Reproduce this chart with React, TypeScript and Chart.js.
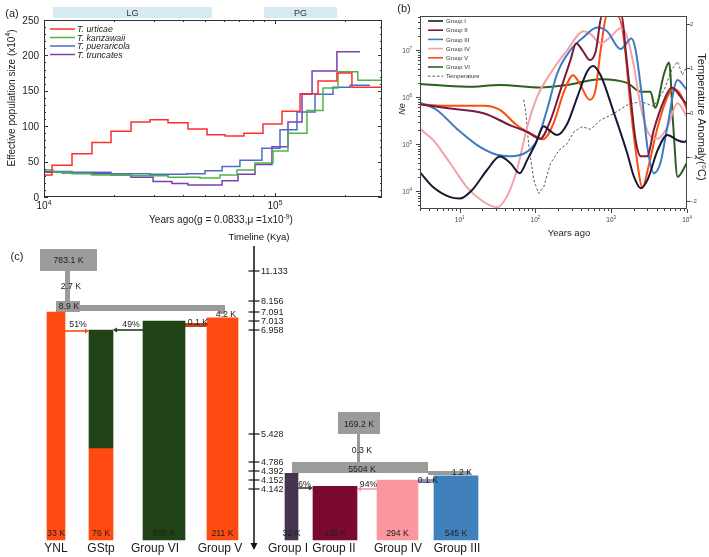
import React, { useEffect, useRef } from 'react';
import { Chart, registerables } from 'chart.js';

Chart.register(...registerables);

const FONT = '"Liberation Sans", Arial, Helvetica, sans-serif';
Chart.defaults.font.family = FONT;

// ================= Panel (a): PSMC step curves =================
const A_SPECIES = ['T. urticae', 'T. kanzawaii', 'T. pueraricola', 'T. truncates'];
const A_COLORS = ['#ff2e2e', '#4db544', '#4a6dc6', '#7a3fb2'];
// change-point years (last entry = end of curve) and Ne (x10^4) held until next change point
const A_URTICAE_YEARS = [10000, 10830, 13220, 16130, 19500, 23810, 28770, 34430, 42000, 50800, 60800, 73400, 88700, 107200, 128300, 153600, 185300, 215300, 290500];
const A_URTICAE_NE = [31, 45, 61, 77, 93, 106, 109, 105, 96, 88, 86, 90, 103, 121, 146, 164, 175, 155];
const A_KANZAWAII_YEARS = [10000, 10940, 13220, 16130, 23550, 34430, 47310, 57810, 68440, 81900, 98000, 113800, 137600, 161300, 187400, 228400, 290500];
const A_KANZAWAII_NE = [38, 35, 33, 31, 30, 28, 27, 31, 38, 48, 65, 90, 122, 154, 177, 165];
const A_PUERARICOLA_YEARS = [10000, 13220, 19500, 28770, 41590, 49770, 59010, 70500, 87800, 105100, 124500, 149000, 178200, 211500, 257800];
const A_PUERARICOLA_NE = [36, 35, 33, 32, 33, 37, 43, 52, 69, 95, 120, 145, 155, 158];
const A_TRUNCATES_YEARS = [10000, 11970, 15810, 19500, 23810, 29660, 35820, 41980, 59010, 69140, 81900, 97000, 113800, 130900, 144700, 185300, 233300];
const A_TRUNCATES_NE = [35, 34, 33, 31, 28, 22, 19, 17, 23, 32, 46, 71, 106, 145, 178, 205];
const A_Y_TICKS = [0, 50, 100, 150, 200, 250];
const A_X_LABELS = [10000, 100000];
const A_PERIODS = ['LG', 'PG'];
const A_PERIOD_START = [10940, 89600];
const A_PERIOD_END = [53300, 185300];

// ================= Panel (b): Ne through time + temperature =================
const B_GROUPS = ['Group I', 'Group II', 'Group III', 'Group IV', 'Group V', 'Group VI'];
const B_COLORS = ['#1b1733', '#7a1a3e', '#3c7dbf', '#f4a1a9', '#ff4d0d', '#2c5f20'];
const B_TOP = 5.3e7;
const B_G1_YEARS = [3, 4.5, 7.5, 10, 14.6, 23, 34, 46.8, 62, 78, 100, 129, 150, 194, 263, 357, 482, 576, 725, 1090, 1630, 2000, 2450, 3000, 4100, 5500, 7500, 9100, 10000];
const B_G1_NE = [2.5e4, 1.2e4, 7.4e3, 6.9e3, 1.05e4, 2.8e4, 5.4e4, 3.9e4, 2.4e4, 4.6e4, 1.0e5, 2.4e5, 2.0e5, 1.55e5, 2.7e5, 1.0e6, 3.5e6, 4.6e6, 2.9e6, 4.5e5, 6.3e4, 2.0e4, 1.15e4, 1.7e4, 7.4e4, 1.55e5, 1.2e5, 1.1e5, 1.2e5];
const B_G2_YEARS = [3, 7.5, 20.7, 46.8, 78, 116, 158, 214, 290, 346, 415, 524, 620, 757, 1380, 1550, 1820, 2100, 2450, 3000, 3650, 5000, 6300, 8300, 10000];
const B_G2_NE = [7e5, 5.7e5, 4.5e5, 2.5e5, 1.8e5, 1.3e5, 3.2e5, 1.4e6, 6.1e6, 1.4e7, 1.0e7, 6.1e6, 9e6, B_TOP, B_TOP, 1.0e7, 8.7e5, 1.2e5, 5.5e4, 5.5e4, 2.0e5, 8.7e5, 1.6e6, 1.0e6, 6.7e5];
const B_G3_YEARS = [3, 5, 9.2, 17, 31, 47, 78, 105, 142, 194, 290, 434, 650, 880, 1330, 1850, 2100, 2570, 3000, 3650, 4450, 5500, 7500, 10000];
const B_G3_NE = [7.6e5, 5.3e5, 2.1e5, 9.5e4, 5.9e4, 5.5e4, 6.9e4, 1.2e5, 5.3e5, 3.2e6, 1.0e7, 1.9e7, 3.0e7, 2.5e7, 1.05e7, 1.75e7, 1.0e7, 8.7e5, 8.7e4, 2.4e4, 3.9e4, 2.3e5, 2.3e6, 1.4e6];
const B_G4_YEARS = [3, 4.5, 7.5, 12.5, 20.7, 31, 42, 57, 78, 105, 158, 263, 434, 530, 725, 980, 1330, 1620, 2000, 2450, 3100, 4100, 5500, 7500, 10000];
const B_G4_NE = [2.1e5, 1.2e5, 3.9e4, 1.2e4, 5.9e3, 4.5e3, 7.6e3, 2.8e4, 2.3e5, 1.0e6, 3.2e6, 1.0e7, 2.5e7, 2.2e7, 1.4e7, 1.9e7, 2.9e7, 1.9e7, 4.4e6, 6.3e5, 1.7e5, 1.3e5, 2.3e5, 7.4e5, 3.8e5];
const B_G5_YEARS = [3, 7.5, 20.7, 34, 57, 95, 126, 174, 238, 314, 373, 524, 620, 725, 880, 1210, 1440, 1820, 2250, 2570, 3100, 4100, 5500, 6700, 8300, 10000];
const B_G5_NE = [7e5, 6.5e5, 6.5e5, 5.3e5, 2.5e5, 1.55e5, 1.26e5, 2.8e5, 1.3e6, 2.9e6, 2.1e6, 8.7e5, 1.4e6, 1.0e7, B_TOP, B_TOP, 2.2e7, 5.3e5, 3.3e4, 1.15e4, 3.3e4, 2.3e5, 1.0e6, 1.5e6, 1.1e6, 5.3e5];
const B_G6_YEARS = [3, 12.5, 34, 116, 263, 725, 1620, 2450, 3300, 3800, 5000, 5800, 6600, 7500, 10000];
const B_G6_NE = [1.9e6, 1.65e6, 1.8e6, 1.6e6, 1.8e6, 2.4e6, 2.0e6, 1.3e6, 1.3e6, 5.9e5, 3.2e6, 5.4e6, 2.3e5, 2.0e4, 4.0e4];
const B_TEMP_YEARS = [70, 74, 82, 95, 110, 129, 158, 205, 263, 323, 415, 534, 725, 1090, 1630, 2450, 3650, 5000, 6300, 7500, 8700, 10000];
const B_TEMP = [0.29, 0.06, -0.77, -1.52, -1.83, -1.68, -1.15, -0.85, -0.7, -0.43, -0.32, -0.38, -0.17, -0.02, 0.17, 0.25, 0.14, 0.51, 0.97, 1.15, 0.85, 1.04];
const B_TEMP_TICKS = [2, 1, 0, -1, -2];

// ================= Panel (c): demographic model =================
const C_POPS = ['YNL', 'GStp', 'Group VI', 'Group V', 'Group I', 'Group II', 'Group IV', 'Group III'];
const C_POP_NE = ['33 K', '76 K', '506 K', '211 K', '32 K', '436 K', '294 K', '545 K'];
const C_POP_ORIGIN_KYA = [7.091, 6.958, 7.013, 7.04, 4.33, 4.145, 4.152, 4.26];
const C_GSTP_SPLIT_KYA = 5.107;
const C_TIMELINE_KYA = [11.133, 8.156, 7.091, 7.013, 6.958, 5.428, 4.786, 4.392, 4.152, 4.142];
const C_ANCESTOR_NE = ['783.1 K', '169.2 K'];
const C_ANCESTOR_KYA = [11.133, 5.428];
const C_FOUNDER_NE = ['2.7 K', '0.3 K'];
const C_MERGED_NE = ['8.9 K', '5504 K'];
const C_BRANCH_NE = ['4.2 K', '1.2 K'];
const C_ADMIX = ['51%', '49%', '6%', '94%'];
const C_MIGRATION = ['0.1 K', '0.1 K'];

// ---- styling / layout (not data) ----
const C_COL = {
  orange: '#ff4a12', green: '#1f4216', g1: '#45334f', g2: '#7b0a30', g4: '#f9969e', g3: '#3f80bd',
  gray: '#9b9b9b', migL: '#b9471c', migR: '#a18dc4',
};
const C_POP_COLORS = [C_COL.orange, C_COL.green, C_COL.green, C_COL.orange, C_COL.g1, C_COL.g2, C_COL.g4, C_COL.g3];
const C_L = {
  timelineRows: [43, 73, 84, 93, 102, 206, 234, 243, 252, 261],
  presentRow: 312,
  barX: [[47, 65], [89, 113], [143, 185], [207, 238], [285, 298], [313, 357], [377, 418], [434, 478]],
  nameX: [56, 101, 155, 220, 288, 334, 398, 457],
};

function kyaToRow(t: number): number {
  const T = [...C_TIMELINE_KYA, 0];
  const R = [...C_L.timelineRows, C_L.presentRow];
  if (t >= T[0]) return R[0] - ((t - T[0]) * (R[1] - R[0])) / (T[0] - T[1]);
  for (let i = 0; i < T.length - 1; i++) {
    if (t <= T[i] && t >= T[i + 1]) return R[i] + ((T[i] - t) / (T[i] - T[i + 1])) * (R[i + 1] - R[i]);
  }
  return R[R.length - 1];
}

type Part = [string, boolean];
function drawRich(ctx: CanvasRenderingContext2D, parts: Part[], x: number, y: number, size: number, align: string, style = '', color = '#222') {
  const sup = size * 0.68;
  const ws = parts.map(([t, s]) => {
    ctx.font = `${style}${s ? sup : size}px ${FONT}`;
    return ctx.measureText(t).width;
  });
  const total = ws.reduce((a, b) => a + b, 0);
  let cx = align === 'left' ? x : align === 'center' ? x - total / 2 : x - total;
  ctx.fillStyle = color;
  ctx.textAlign = 'left';
  ctx.textBaseline = 'alphabetic';
  parts.forEach(([t, s], i) => {
    ctx.font = `${style}${s ? sup : size}px ${FONT}`;
    ctx.fillText(t, cx, s ? y - size * 0.42 : y);
    cx += ws[i];
  });
}
function txt(ctx: CanvasRenderingContext2D, t: string, x: number, yc: number, size: number, align = 'center', color = '#222', style = '') {
  drawRich(ctx, [[t, false]], x, yc + size * 0.36, size, align, style, color);
}

function logTickList(min: number, max: number) {
  const out: { v: number; major: boolean }[] = [];
  for (let e = Math.floor(Math.log10(min)); e <= Math.ceil(Math.log10(max)); e++) {
    for (let m = 1; m <= 9; m++) {
      const v = m * Math.pow(10, e);
      if (v >= min * 0.9999 && v <= max * 1.0001) out.push({ v, major: m === 1 });
    }
  }
  return out;
}

function stepPoints(years: number[], ne: number[]) {
  const pts = ne.map((v, i) => ({ x: years[i], y: v }));
  pts.push({ x: years[years.length - 1], y: ne[ne.length - 1] });
  return pts;
}
function pairPoints(xs: number[], ys: number[]) {
  return xs.map((x, i) => ({ x, y: ys[i] }));
}

// ---------- Panel (a) plugin ----------
const panelAPlugin = {
  id: 'panelA',
  afterDraw(chart: any) {
    const { ctx, chartArea: ca, scales } = chart;
    const xs = scales.x, ys = scales.y;
    ctx.save();
    A_PERIODS.forEach((name, i) => {
      const x0 = xs.getPixelForValue(A_PERIOD_START[i]);
      const x1 = xs.getPixelForValue(A_PERIOD_END[i]);
      ctx.fillStyle = '#d6ebf1';
      ctx.fillRect(x0, 7, x1 - x0, 11);
      txt(ctx, name, (x0 + x1) / 2, 12.5, 9, 'center', '#333');
    });
    ctx.strokeStyle = '#333';
    ctx.lineWidth = 1;
    ctx.strokeRect(ca.left + 0.5, ca.top + 0.5, ca.width - 1, ca.height - 1);
    ctx.beginPath();
    for (let v = 0; v <= 250; v += 10) {
      const py = Math.round(ys.getPixelForValue(v)) + 0.5;
      const len = v % 50 === 0 ? 4 : 2;
      ctx.moveTo(ca.left, py); ctx.lineTo(ca.left + len, py);
      ctx.moveTo(ca.right, py); ctx.lineTo(ca.right - len, py);
    }
    logTickList(xs.min, xs.max).forEach(({ v, major }) => {
      const px = Math.round(xs.getPixelForValue(v)) + 0.5;
      const len = major ? 4 : 2;
      ctx.moveTo(px, ca.bottom); ctx.lineTo(px, ca.bottom - len);
      ctx.moveTo(px, ca.top); ctx.lineTo(px, ca.top + len);
    });
    ctx.stroke();
    A_Y_TICKS.forEach((v) => txt(ctx, String(v), ca.left - 5, ys.getPixelForValue(v), 10, 'right', '#222'));
    A_X_LABELS.forEach((v) => {
      const e = Math.round(Math.log10(v));
      drawRich(ctx, [['10', false], [String(e), true]], xs.getPixelForValue(v), 209, 10, 'center');
    });
    drawRich(ctx, [['Years ago(g = 0.0833,\u03bc =1x10', false], ['-9', true], [')', false]], 221, 223, 10, 'center');
    ctx.save();
    ctx.translate(11, 98);
    ctx.rotate(-Math.PI / 2);
    drawRich(ctx, [['Effective population size (x10', false], ['4', true], [')', false]], 0, 3.6, 10, 'center');
    ctx.restore();
    const ly = [29, 37.5, 46, 54.5];
    A_SPECIES.forEach((name, i) => {
      ctx.strokeStyle = A_COLORS[i];
      ctx.lineWidth = 1.5;
      ctx.beginPath(); ctx.moveTo(50, ly[i]); ctx.lineTo(75, ly[i]); ctx.stroke();
      txt(ctx, name, 77, ly[i], 8.8, 'left', '#222', 'italic ');
    });
    txt(ctx, '(a)', 12, 13, 11, 'center', '#222');
    ctx.restore();
  },
};

// ---------- Panel (b) plugin ----------
const panelBPlugin = {
  id: 'panelB',
  afterDraw(chart: any) {
    const { ctx, chartArea: ca, scales } = chart;
    const xs = scales.x, ys = scales.y, y2 = scales.y2;
    ctx.save();
    ctx.strokeStyle = '#444';
    ctx.lineWidth = 1;
    ctx.strokeRect(ca.left + 0.5, ca.top + 0.5, ca.width - 1, ca.height - 1);
    ctx.beginPath();
    logTickList(ys.min, ys.max).forEach(({ v, major }) => {
      const py = Math.round(ys.getPixelForValue(v)) + 0.5;
      ctx.moveTo(ca.left, py); ctx.lineTo(ca.left - (major ? 4 : 2), py);
    });
    logTickList(xs.min, xs.max).forEach(({ v, major }) => {
      const px = Math.round(xs.getPixelForValue(v)) + 0.5;
      ctx.moveTo(px, ca.bottom); ctx.lineTo(px, ca.bottom + (major ? 4 : 2));
    });
    B_TEMP_TICKS.forEach((t) => {
      const py = Math.round(y2.getPixelForValue(t)) + 0.5;
      ctx.moveTo(ca.right, py); ctx.lineTo(ca.right + 3, py);
    });
    ctx.stroke();
    logTickList(ys.min, ys.max).filter((t) => t.major).forEach(({ v }) => {
      drawRich(ctx, [['10', false], [String(Math.round(Math.log10(v))), true]], ca.left - 8, ys.getPixelForValue(v) + 2.5, 6.5, 'right', '', '#444');
    });
    logTickList(xs.min, xs.max).filter((t) => t.major).forEach(({ v }) => {
      drawRich(ctx, [['10', false], [String(Math.round(Math.log10(v))), true]], xs.getPixelForValue(v), 222, 6.5, 'center', '', '#444');
    });
    B_TEMP_TICKS.forEach((t) => txt(ctx, t < 0 ? '\u2212' + Math.abs(t) : String(t), ca.right + 3, y2.getPixelForValue(t), 6, 'left', '#444'));
    txt(ctx, 'Years ago', 209, 233, 9.5, 'center', '#222');
    ctx.save();
    ctx.translate(42, 109);
    ctx.rotate(-Math.PI / 2);
    txt(ctx, 'Ne', 0, 0, 9, 'center', '#222', 'italic ');
    ctx.restore();
    ctx.save();
    ctx.translate(342, 117);
    ctx.rotate(Math.PI / 2);
    txt(ctx, 'Temperature Anomaly(\u00b0C)', 0, 0, 11, 'center', '#222');
    ctx.restore();
    const names = [...B_GROUPS, 'Temperature'];
    names.forEach((n, i) => {
      const y = 21 + i * 9.2;
      ctx.strokeStyle = i < 6 ? B_COLORS[i] : '#555';
      ctx.lineWidth = i < 6 ? 1.6 : 1;
      ctx.setLineDash(i < 6 ? [] : [2.5, 2]);
      ctx.beginPath(); ctx.moveTo(68, y); ctx.lineTo(83, y); ctx.stroke();
      ctx.setLineDash([]);
      txt(ctx, n, 86, y, 6, 'left', '#333');
    });
    txt(ctx, '(b)', 44, 8, 11, 'center', '#222');
    ctx.restore();
  },
};

// ---------- Panel (c) plugin ----------
const panelCPlugin = {
  id: 'panelC',
  beforeDatasetsDraw(chart: any) {
    const { ctx, scales } = chart;
    const X = (v: number) => scales.x.getPixelForValue(v);
    const Y = (v: number) => scales.y.getPixelForValue(v);
    const rect = (x0: number, r0: number, x1: number, r1: number, c: string) => {
      ctx.fillStyle = c;
      ctx.fillRect(X(x0), Y(r0), X(x1) - X(x0), Y(r1) - Y(r0));
    };
    ctx.save();
    const aRow = C_ANCESTOR_KYA.map(kyaToRow);
    rect(40, aRow[0] - 22, 97, aRow[0], C_COL.gray);
    rect(338, aRow[1] - 22, 380, aRow[1], C_COL.gray);
    rect(65, aRow[0], 70, kyaToRow(8.156), C_COL.gray);
    rect(357, aRow[1], 360, kyaToRow(4.786), C_COL.gray);
    rect(56, kyaToRow(8.156), 80, kyaToRow(7.091), C_COL.gray);
    rect(56, 77, 225, 83, C_COL.gray);
    rect(219, 83, 225, 86, C_COL.gray);
    rect(292, kyaToRow(4.786), 428, 245, C_COL.gray);
    rect(428, 243, 470, 247, C_COL.gray);
    rect(185, 95, 207, 99, C_COL.migL);
    rect(418, 251, 434, 255, C_COL.migR);
    const arrow = (x0: number, x1: number, r: number, c: string) => {
      ctx.strokeStyle = c; ctx.fillStyle = c; ctx.lineWidth = 1.6;
      const dir = Math.sign(x1 - x0);
      ctx.beginPath(); ctx.moveTo(X(x0), Y(r)); ctx.lineTo(X(x1) - dir * 3, Y(r)); ctx.stroke();
      ctx.beginPath();
      ctx.moveTo(X(x1), Y(r)); ctx.lineTo(X(x1) - dir * 4, Y(r) - 2.5); ctx.lineTo(X(x1) - dir * 4, Y(r) + 2.5); ctx.closePath(); ctx.fill();
    };
    arrow(65, 89, 103, C_COL.orange);
    arrow(143, 113, 102, C_COL.green);
    arrow(298, 313, 260, C_COL.g1);
    arrow(377, 357, 261, C_COL.g4);
    ctx.restore();
  },
  afterDatasetsDraw(chart: any) {
    const { ctx, scales } = chart;
    const X = (v: number) => scales.x.getPixelForValue(v);
    const Y = (v: number) => scales.y.getPixelForValue(v);
    const S = 8.7;
    ctx.save();
    const aRow = C_ANCESTOR_KYA.map(kyaToRow);
    txt(ctx, C_ANCESTOR_NE[0], X(68.5), Y(aRow[0] - 11), S);
    txt(ctx, C_ANCESTOR_NE[1], X(359), Y(aRow[1] - 10), S);
    txt(ctx, C_FOUNDER_NE[0], X(71), Y(58), S);
    txt(ctx, C_FOUNDER_NE[1], X(362), Y(222), S);
    txt(ctx, C_MERGED_NE[0], X(69), Y(78), S);
    txt(ctx, C_MERGED_NE[1], X(362), Y(240.5), S);
    txt(ctx, C_BRANCH_NE[0], X(226), Y(86), S);
    txt(ctx, C_BRANCH_NE[1], X(462), Y(244), S);
    txt(ctx, C_MIGRATION[0], X(198), Y(94), S);
    txt(ctx, C_MIGRATION[1], X(428), Y(252), S);
    txt(ctx, C_ADMIX[0], X(78), Y(96), S);
    txt(ctx, C_ADMIX[1], X(131), Y(96), S);
    txt(ctx, C_ADMIX[2], X(304.5), Y(256), S);
    txt(ctx, C_ADMIX[3], X(368.5), Y(256), S);
    C_POPS.forEach((name, i) => {
      const [x0, x1] = C_L.barX[i];
      txt(ctx, C_POP_NE[i], X((x0 + x1) / 2), Y(305), S);
      txt(ctx, name, X(C_L.nameX[i]), Y(320), 12, 'center', '#1a1a1a');
    });
    ctx.restore();
  },
  afterDraw(chart: any) {
    const { ctx, scales } = chart;
    const X = (v: number) => scales.x.getPixelForValue(v);
    const Y = (v: number) => scales.y.getPixelForValue(v);
    ctx.save();
    ctx.strokeStyle = '#111'; ctx.fillStyle = '#111';
    ctx.lineWidth = 1.5;
    ctx.beginPath(); ctx.moveTo(X(254), Y(18)); ctx.lineTo(X(254), Y(316)); ctx.stroke();
    ctx.beginPath(); ctx.moveTo(X(250.5), Y(315)); ctx.lineTo(X(257.5), Y(315)); ctx.lineTo(X(254), Y(322)); ctx.closePath(); ctx.fill();
    ctx.lineWidth = 1.2;
    C_TIMELINE_KYA.forEach((t) => {
      const r = kyaToRow(t);
      ctx.beginPath(); ctx.moveTo(X(248.5), Y(r)); ctx.lineTo(X(259.5), Y(r)); ctx.stroke();
      txt(ctx, t.toFixed(3), X(261), Y(r), 9, 'left', '#222');
    });
    txt(ctx, 'Timeline (Kya)', X(259), Y(9), 9.5, 'center', '#111');
    txt(ctx, '(c)', X(17), Y(28), 11, 'center', '#222');
    ctx.restore();
  },
};

function makeA(canvas: HTMLCanvasElement) {
  const sets = [
    [A_URTICAE_YEARS, A_URTICAE_NE],
    [A_KANZAWAII_YEARS, A_KANZAWAII_NE],
    [A_PUERARICOLA_YEARS, A_PUERARICOLA_NE],
    [A_TRUNCATES_YEARS, A_TRUNCATES_NE],
  ];
  return new Chart(canvas, {
    type: 'line',
    data: {
      datasets: sets.map(([yrs, ne], i) => ({
        label: A_SPECIES[i],
        data: stepPoints(yrs, ne),
        borderColor: A_COLORS[i],
        borderWidth: 1.5,
        stepped: 'before',
        pointRadius: 0,
        fill: false,
      })),
    },
    options: {
      animation: false,
      responsive: false,
      devicePixelRatio: 1,
      layout: { padding: { left: 44, right: 8, top: 20, bottom: 35 } },
      scales: {
        x: { type: 'logarithmic', min: 10000, max: 290500, display: false },
        y: { type: 'linear', min: 0, max: 250, display: false },
      },
      plugins: { legend: { display: false }, tooltip: { enabled: false } },
    },
    plugins: [panelAPlugin],
  } as any);
}

function makeB(canvas: HTMLCanvasElement) {
  const sets = [
    [B_G1_YEARS, B_G1_NE], [B_G2_YEARS, B_G2_NE], [B_G3_YEARS, B_G3_NE],
    [B_G4_YEARS, B_G4_NE], [B_G5_YEARS, B_G5_NE], [B_G6_YEARS, B_G6_NE],
  ];
  const datasets: any[] = sets.map(([yrs, ne], i) => ({
    label: B_GROUPS[i],
    data: pairPoints(yrs, ne),
    borderColor: B_COLORS[i],
    borderWidth: 2,
    cubicInterpolationMode: 'monotone',
    pointRadius: 0,
    fill: false,
    yAxisID: 'y',
  }));
  datasets.push({
    label: 'Temperature',
    data: pairPoints(B_TEMP_YEARS, B_TEMP),
    borderColor: '#555',
    borderWidth: 1,
    borderDash: [2.5, 2],
    tension: 0,
    pointRadius: 0,
    fill: false,
    yAxisID: 'y2',
  });
  return new Chart(canvas, {
    type: 'line',
    data: { datasets },
    options: {
      animation: false,
      responsive: false,
      devicePixelRatio: 1,
      layout: { padding: { left: 60, right: 22, top: 16, bottom: 36 } },
      scales: {
        x: { type: 'logarithmic', min: 3, max: 10000, display: false },
        y: { type: 'logarithmic', min: 4140, max: B_TOP, display: false },
        y2: { type: 'linear', position: 'right', min: -2.18, max: 2.18, display: false },
      },
      plugins: { legend: { display: false }, tooltip: { enabled: false } },
    },
    plugins: [panelBPlugin],
  } as any);
}

function makeC(canvas: HTMLCanvasElement) {
  const datasets: any[] = [];
  const bottom = kyaToRow(0);
  C_POPS.forEach((name, i) => {
    const [x0, x1] = C_L.barX[i];
    const cx = (x0 + x1) / 2;
    const top = kyaToRow(C_POP_ORIGIN_KYA[i]);
    const base = { barThickness: x1 - x0, grouped: false, borderWidth: 0 };
    if (name === 'GStp') {
      const mid = kyaToRow(C_GSTP_SPLIT_KYA);
      datasets.push({ ...base, label: name + ' (Group VI ancestry)', data: [{ x: cx, y: [top, mid] }], backgroundColor: C_COL.green });
      datasets.push({ ...base, label: name + ' (Group V ancestry)', data: [{ x: cx, y: [mid, bottom] }], backgroundColor: C_COL.orange });
    } else {
      datasets.push({ ...base, label: name, data: [{ x: cx, y: [top, bottom] }], backgroundColor: C_POP_COLORS[i] });
    }
  });
  return new Chart(canvas, {
    type: 'bar',
    data: { datasets },
    options: {
      animation: false,
      responsive: false,
      devicePixelRatio: 1,
      layout: { padding: 0 },
      scales: {
        x: { type: 'linear', min: 0, max: 520, offset: false, display: false },
        y: { type: 'linear', min: 0, max: 329, reverse: true, display: false },
      },
      plugins: { legend: { display: false }, tooltip: { enabled: false } },
    },
    plugins: [panelCPlugin],
  } as any);
}

export default function App() {
  const refA = useRef<HTMLCanvasElement>(null);
  const refB = useRef<HTMLCanvasElement>(null);
  const refC = useRef<HTMLCanvasElement>(null);
  useEffect(() => {
    const charts: Chart[] = [];
    if (refA.current) charts.push(makeA(refA.current));
    if (refB.current) charts.push(makeB(refB.current));
    if (refC.current) charts.push(makeC(refC.current));
    return () => charts.forEach((c) => c.destroy());
  }, []);
  const abs = (l: number, t: number, w: number, h: number) => ({ position: 'absolute' as const, left: l, top: t, width: w, height: h });
  return (
    <div style={{ position: 'absolute', left: 0, top: 0, width: 709, height: 557, background: '#fff', overflow: 'hidden' }}>
      <canvas ref={refC} width={520} height={329} style={abs(0, 228, 520, 329)} />
      <canvas ref={refA} width={390} height={232} style={abs(0, 0, 390, 232)} />
      <canvas ref={refB} width={349} height={245} style={abs(360, 0, 349, 245)} />
    </div>
  );
}
